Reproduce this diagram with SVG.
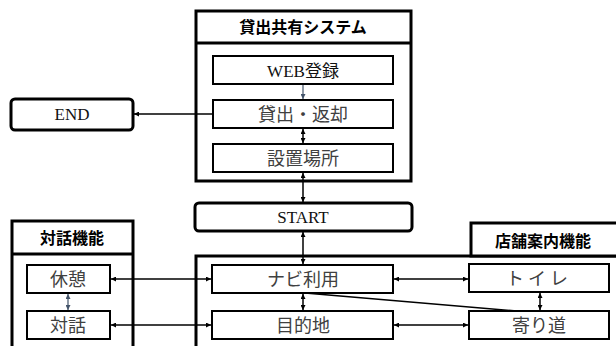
<svg xmlns="http://www.w3.org/2000/svg" width="616" height="346" viewBox="0 0 616 346">
<style>
.frame{fill:#fff;stroke:#000;stroke-width:3}
.box{fill:#fff;stroke:#000;stroke-width:2}
.term{fill:#fff;stroke:#000;stroke-width:3}
.hd{font-family:"Noto Sans CJK JP",sans-serif;font-weight:bold;font-size:16px;fill:#000;text-anchor:middle}
.lb{font-family:"Noto Sans CJK JP",sans-serif;font-size:18px;fill:#404040;text-anchor:middle}
.en{font-family:"Liberation Serif","Noto Sans CJK JP",serif;font-size:17px;fill:#111;text-anchor:middle}
.c{stroke:#000;stroke-width:1.5;fill:none}
.cb{stroke:#44546a;stroke-width:1.2;fill:none}
</style>
<defs>
<marker id="a" viewBox="0 0 8 8" refX="8" refY="4" markerWidth="5" markerHeight="5" orient="auto-start-reverse" markerUnits="userSpaceOnUse"><path d="M0,0L8,4L0,8z" fill="#000"/></marker>
<marker id="ab" viewBox="0 0 8 8" refX="8" refY="4" markerWidth="5" markerHeight="5" orient="auto-start-reverse" markerUnits="userSpaceOnUse"><path d="M0,0L8,4L0,8z" fill="#44546a"/></marker>
</defs>
<rect width="616" height="346" fill="#fff"/>

<g id="system">
<rect class="frame" x="196" y="11" width="215" height="170"/>
<line x1="196" y1="43" x2="411" y2="43" stroke="#000" stroke-width="3"/>
<text class="hd" x="303" y="33">貸出共有システム</text>
</g>
<g id="web"><rect class="box" x="213" y="56" width="180" height="28"/><text class="en" x="303" y="77" font-size="18">WEB登録</text></g>
<g id="lend"><rect class="box" x="213" y="100" width="180" height="28"/><text class="lb" x="303" y="121">貸出・返却</text></g>
<g id="place"><rect class="box" x="213" y="144" width="180" height="28"/><text class="lb" x="303" y="165">設置場所</text></g>

<g id="end"><rect class="term" x="11" y="99" width="122" height="31" rx="4"/><text class="en" x="72" y="120">END</text></g>
<g id="start"><rect class="term" x="195" y="203" width="217" height="28" rx="4"/><text class="en" x="303" y="223">START</text></g>

<g id="dialog">
<rect class="frame" x="12" y="221" width="121" height="140"/>
<line x1="12" y1="254" x2="133" y2="254" stroke="#000" stroke-width="3"/>
<text class="hd" x="72" y="244">対話機能</text>
</g>
<g id="rest"><rect class="box" x="27" y="265" width="83" height="28"/><text class="lb" x="68" y="286">休憩</text></g>
<g id="talk"><rect class="box" x="27" y="311" width="83" height="28"/><text class="lb" x="68" y="332">対話</text></g>

<g id="nav">
<rect class="frame" x="196" y="256" width="430" height="110"/>
<rect class="frame" x="471" y="223" width="155" height="33"/>
<text class="hd" x="543" y="247">店舗案内機能</text>
</g>
<g id="navi"><rect class="box" x="212" y="265" width="181" height="28"/><text class="lb" x="303" y="286">ナビ利用</text></g>
<g id="dest"><rect class="box" x="212" y="311" width="181" height="28"/><text class="lb" x="303" y="332">目的地</text></g>
<g id="toilet"><rect class="box" x="469" y="264" width="140" height="28"/><text class="lb" x="539" y="285" letter-spacing="4">トイレ</text></g>
<g id="detour"><rect class="box" x="469" y="311" width="140" height="28"/><text class="lb" x="539" y="332">寄り道</text></g>

<g id="connectors">
<line class="cb" x1="303" y1="85" x2="303" y2="99" marker-end="url(#ab)"/>
<line class="c" x1="303" y1="129" x2="303" y2="143" marker-start="url(#a)" marker-end="url(#a)"/>
<line class="c" x1="303" y1="173" x2="303" y2="202" marker-start="url(#a)" marker-end="url(#a)"/>
<line class="c" x1="303" y1="232" x2="303" y2="264" marker-start="url(#a)" marker-end="url(#a)"/>
<line class="c" x1="303" y1="294" x2="303" y2="310" marker-start="url(#a)" marker-end="url(#a)"/>
<line class="c" x1="213" y1="114" x2="134" y2="114" marker-end="url(#a)"/>
<line class="c" x1="111" y1="279" x2="211" y2="279" marker-start="url(#a)" marker-end="url(#a)"/>
<line class="c" x1="111" y1="325" x2="211" y2="325" marker-start="url(#a)" marker-end="url(#a)"/>
<line class="cb" x1="68" y1="294" x2="68" y2="310" marker-start="url(#ab)" marker-end="url(#ab)"/>
<line class="c" x1="394" y1="279" x2="468" y2="279" marker-start="url(#a)" marker-end="url(#a)"/>
<line class="c" x1="394" y1="325" x2="468" y2="325" marker-start="url(#a)" marker-end="url(#a)"/>
<line class="c" x1="540" y1="293" x2="540" y2="310" marker-start="url(#a)" marker-end="url(#a)"/>
<line class="c" x1="305" y1="293" x2="517" y2="311" stroke-width="1.8"/>
</g>
</svg>
